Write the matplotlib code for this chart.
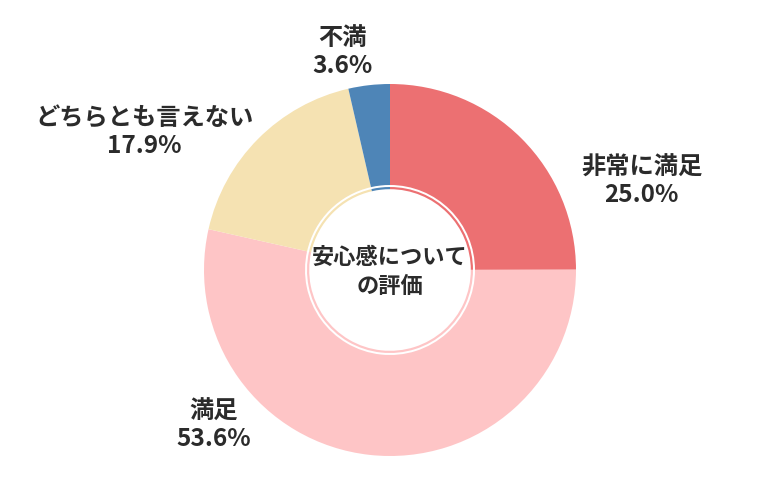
import matplotlib
matplotlib.use("Agg")
import matplotlib.pyplot as plt

plt.rcParams["font.family"] = ["Noto Sans CJK JP", "DejaVu Sans"]

categories = ["非常に満足", "満足", "どちらとも言えない", "不満"]
values = [25.0, 53.6, 17.9, 3.6]
colors = ["#ec7072", "#fec5c6", "#f5e2b2", "#4e85b7"]
center_title = "安心感について\nの評価"

# label block centres, in units of the outer radius
label_pos = [(1.353, 0.476), (-0.947, -0.834), (-1.321, 0.743), (-0.257, 1.171)]

R = 186.0  # outer radius in px
fig = plt.figure(figsize=(7.8, 5.0), dpi=100)
ax = fig.add_axes([0, 0, 1, 1])

# main ring
ax.pie(
    values,
    colors=colors,
    startangle=90,
    counterclock=False,
    radius=1.0,
    wedgeprops=dict(width=1.0 - 85 / R, linewidth=0),
)
# thin inner ring
ax.pie(
    values,
    colors=colors,
    startangle=90,
    counterclock=False,
    radius=83 / R,
    wedgeprops=dict(width=2.2 / R, linewidth=0),
)

for name, val, (x, y) in zip(categories, values, label_pos):
    ax.text(x, y, f"{name}\n{val:.1f}%", ha="center", va="center",
            fontsize=17.5, fontweight="bold", color="#2b2b2b", linespacing=1.18)

ax.text(0, -0.01, center_title, ha="center", va="center",
        fontsize=16, fontweight="bold", color="#2b2b2b", linespacing=1.35)

ax.set_xlim(-390 / R, 390 / R)
ax.set_ylim(-230 / R, 270 / R)
ax.set_aspect("equal")
ax.axis("off")

fig.savefig("out.png", dpi=100)
